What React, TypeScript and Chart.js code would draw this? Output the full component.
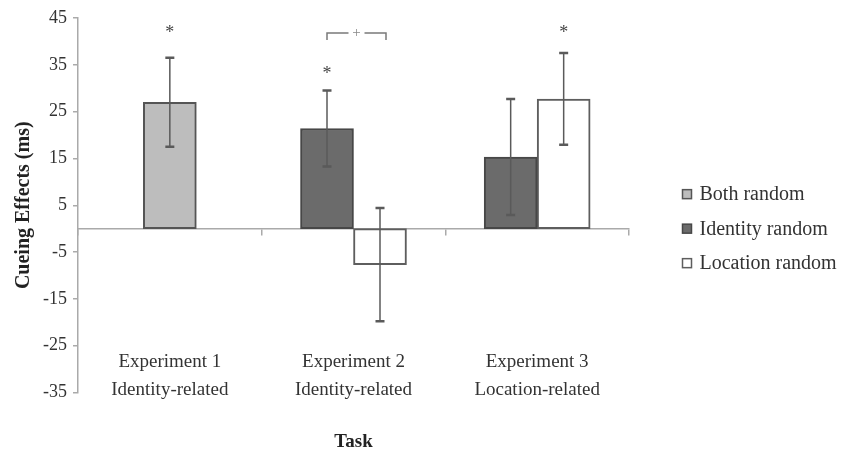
import React, { useEffect, useRef } from "react";
import { Chart, registerables } from "chart.js";

Chart.register(...registerables);

// ---- data ----
const categories = [
  ["Experiment 1", "Identity-related"],
  ["Experiment 2", "Identity-related"],
  ["Experiment 3", "Location-related"],
];
const seriesNames = ["Both random", "Identity random", "Location random"];
const bothRandom = [27.0, null, null];
const identityRandom = [null, 21.4, 15.3];
const locationRandom = [null, -7.7, 27.7];
const bothRandomError = [9.5, null, null];
const identityRandomError = [null, 8.1, 12.4];
const locationRandomError = [null, 12.1, 9.8];
const yMin = -35;
const yMax = 45;
const yStep = 10;
const starMarks = [
  { series: 0, category: 0, value: 42.7 },
  { series: 1, category: 1, value: 34.0 },
  { series: 2, category: 2, value: 42.8 },
];
const trendBracket = { category: 1, fromSeries: 1, toSeries: 2, value: 41.8, label: "+" };

const FONT = "'Liberation Serif', 'Times New Roman', serif";
const errors = [bothRandomError, identityRandomError, locationRandomError];

const annotationPlugin = {
  id: "annotations",
  afterDatasetsDraw(chart: any) {
    const ctx = chart.ctx;
    const ys = chart.scales.y;
    ctx.save();
    // error bars
    errors.forEach((errs, di) => {
      const meta = chart.getDatasetMeta(di);
      const vals = chart.data.datasets[di].data;
      errs.forEach((e: any, i: number) => {
        if (e == null || vals[i] == null) return;
        const el = meta.data[i];
        const x = el.x;
        const top = ys.getPixelForValue(vals[i] + e);
        const bot = ys.getPixelForValue(vals[i] - e);
        ctx.strokeStyle = "#5a5a5a";
        ctx.lineWidth = 1.5;
        ctx.beginPath();
        ctx.moveTo(x, top);
        ctx.lineTo(x, bot);
        ctx.stroke();
        ctx.lineWidth = 2.5;
        ctx.beginPath();
        ctx.moveTo(x - 4.5, top);
        ctx.lineTo(x + 4.5, top);
        ctx.moveTo(x - 4.5, bot);
        ctx.lineTo(x + 4.5, bot);
        ctx.stroke();
      });
    });
    // asterisks
    ctx.fillStyle = "#444";
    ctx.font = `18px ${FONT}`;
    ctx.textAlign = "center";
    ctx.textBaseline = "alphabetic";
    const m = ctx.measureText("*");
    const shift = (m.actualBoundingBoxDescent - m.actualBoundingBoxAscent) / 2;
    starMarks.forEach((s) => {
      const el = chart.getDatasetMeta(s.series).data[s.category];
      const cy = ys.getPixelForValue(s.value);
      ctx.fillText("*", el.x, cy - shift);
    });
    // bracket
    const a = chart.getDatasetMeta(trendBracket.fromSeries).data[trendBracket.category];
    const b = chart.getDatasetMeta(trendBracket.toSeries).data[trendBracket.category];
    const x1 = a.x;
    const x2 = b.x + 6;
    const by = ys.getPixelForValue(trendBracket.value);
    const mid = (x1 + x2) / 2;
    ctx.strokeStyle = "#7a7a7a";
    ctx.lineWidth = 1.5;
    ctx.beginPath();
    ctx.moveTo(x1, by + 7);
    ctx.lineTo(x1, by);
    ctx.lineTo(mid - 8, by);
    ctx.moveTo(mid + 8, by);
    ctx.lineTo(x2, by);
    ctx.lineTo(x2, by + 7);
    ctx.stroke();
    ctx.fillStyle = "#888";
    ctx.font = `15px ${FONT}`;
    ctx.textBaseline = "middle";
    ctx.fillText(trendBracket.label, mid, by);
    ctx.restore();
  },
  afterDraw(chart: any) {
    const ctx = chart.ctx;
    const area = chart.chartArea;
    const zero = chart.scales.y.getPixelForValue(0);
    ctx.save();
    chart.data.datasets.forEach((ds: any, i: number) => {
      const cy = zero + (i - 1) * 34.5;
      const x0 = area.right + 53.5;
      ctx.fillStyle = ds.backgroundColor;
      ctx.fillRect(x0, cy - 4.5, 9, 9);
      ctx.strokeStyle = ds.borderColor;
      ctx.lineWidth = 1.5;
      ctx.strokeRect(x0, cy - 4.5, 9, 9);
      ctx.fillStyle = "#333";
      ctx.font = `20px ${FONT}`;
      ctx.textAlign = "left";
      ctx.textBaseline = "middle";
      ctx.fillText(ds.label, x0 + 17, cy + 1);
    });
    ctx.restore();
  },
};

export default function App() {
  const ref = useRef<HTMLCanvasElement>(null);
  useEffect(() => {
    document.body.style.margin = "0";
    Chart.defaults.font.family = FONT;
    Chart.defaults.color = "#333";
    const chart = new Chart(ref.current as HTMLCanvasElement, {
      type: "bar",
      data: {
        labels: categories as any,
        datasets: [
          {
            label: seriesNames[0],
            data: bothRandom as any,
            backgroundColor: "#bdbdbd",
            borderColor: "#555555",
            borderWidth: 2,
            borderSkipped: false,
          },
          {
            label: seriesNames[1],
            data: identityRandom as any,
            backgroundColor: "#6b6b6b",
            borderColor: "#474747",
            borderWidth: 2,
            borderSkipped: false,
          },
          {
            label: seriesNames[2],
            data: locationRandom as any,
            backgroundColor: "#ffffff",
            borderColor: "#5e5e5e",
            borderWidth: 2,
            borderSkipped: false,
          },
        ],
      },
      options: {
        responsive: false,
        animation: false,
        skipNull: true,
        barThickness: 53,
        layout: { padding: { top: 18, right: 216, bottom: 0, left: 0 } },
        plugins: {
          legend: { display: false },
          tooltip: { enabled: false },
          title: {
            display: true,
            text: "Task",
            position: "bottom",
            fullSize: false,
            color: "#222",
            font: { size: 19, weight: "bold", lineHeight: 1 },
            padding: { top: 40.5, bottom: 0 },
          },
        },
        scales: {
          x: {
            type: "category",
            position: { y: 0 } as any,
            offset: true,
            grid: {
              offset: true,
              drawOnChartArea: false,
              drawTicks: true,
              tickLength: 6,
              color: "#aaaaaa",
              lineWidth: 1.5,
            },
            border: { color: "#aaaaaa", width: 1.5 },
            ticks: {
              color: "#333",
              font: { size: 19, lineHeight: 28 / 19 },
              padding: 113,
              maxRotation: 0,
              autoSkip: false,
            },
            afterFit: (scale: any) => {
              scale.paddingLeft = 0;
              scale.paddingRight = 0;
            },
          },
          y: {
            min: yMin,
            max: yMax,
            ticks: {
              stepSize: yStep,
              color: "#333",
              font: { size: 18 },
              padding: 6,
            },
            grid: {
              drawOnChartArea: false,
              drawTicks: true,
              tickLength: 5,
              color: "#aaaaaa",
              lineWidth: 1.5,
            },
            border: { color: "#aaaaaa", width: 1.5 },
            title: {
              display: true,
              text: "Cueing Effects (ms)",
              color: "#222",
              font: { size: 20, weight: "bold" },
              padding: { top: 12, bottom: 0 },
            },
            afterFit: (scale: any) => {
              scale.width = 78;
            },
          },
        },
      } as any,
      plugins: [annotationPlugin],
    });
    return () => chart.destroy();
  }, []);
  return (
    <div style={{ width: 845, height: 452 }}>
      <canvas ref={ref} width={845} height={452} />
    </div>
  );
}
